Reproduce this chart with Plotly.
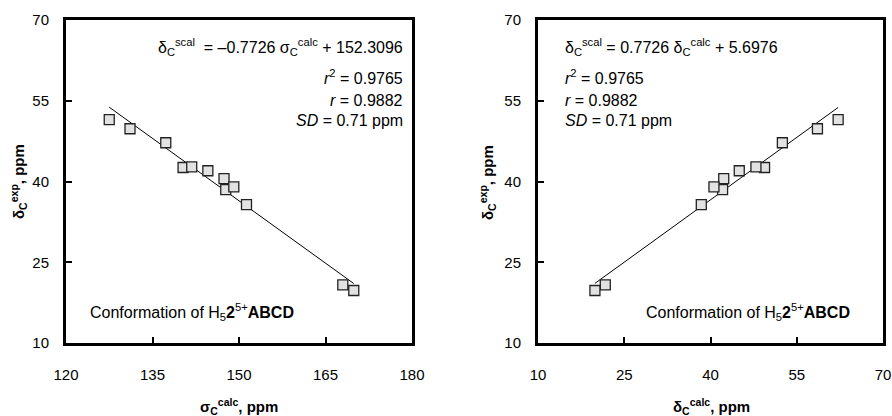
import plotly.graph_objects as go

# Experimental 13C shifts (ppm), shared by both panels
delta_exp = [51.5, 49.8, 47.2, 42.6, 42.7, 42.0, 40.55, 38.5, 39.0, 35.7, 20.8, 19.75]
# Calculated shieldings (ppm), left panel
sigma_calc = [127.5, 131.1, 137.3, 140.3, 141.8, 144.6, 147.4, 147.7, 149.1, 151.3, 168.0, 169.9]
# Calculated shifts (ppm), right panel
delta_calc = [62.2, 58.6, 52.5, 49.4, 47.9, 45.0, 42.3, 42.1, 40.6, 38.4, 21.7, 19.9]

# Linear scaling fits quoted on the panels
fit_sigma = (-0.7726, 152.3096)
fit_delta = (0.7726, 5.6976)

x_ticks_left = [120, 135, 150, 165, 180]
x_ticks_right = [10, 25, 40, 55, 70]
y_ticks = [10, 25, 40, 55, 70]

W, H = 892, 416
TICK_FONT = dict(family="Liberation Sans Narrow, Arial Narrow, Liberation Sans, Arial", size=15, color="black")
TEXT_FONT = dict(family="Liberation Sans, Arial, Helvetica, sans-serif", size=16, color="black")
TITLE_FONT = dict(family="Liberation Sans, Arial, Helvetica, sans-serif", size=15, color="black")

marker = dict(symbol="square", size=10, color="#e2e2e2", line=dict(color="#222222", width=1.3))

fig = go.Figure()


def fit_line(xs, fit):
    lo, hi = min(xs), max(xs)
    a, b = fit
    return [lo, hi], [a * lo + b, a * hi + b]


lx, ly = fit_line(sigma_calc, fit_sigma)
fig.add_trace(go.Scatter(x=lx, y=ly, mode="lines", line=dict(color="black", width=1),
                         xaxis="x", yaxis="y", showlegend=False, hoverinfo="skip"))
fig.add_trace(go.Scatter(x=sigma_calc, y=delta_exp, mode="markers", marker=marker,
                         xaxis="x", yaxis="y", showlegend=False))

rx, ry = fit_line(delta_calc, fit_delta)
fig.add_trace(go.Scatter(x=rx, y=ry, mode="lines", line=dict(color="black", width=1),
                         xaxis="x2", yaxis="y2", showlegend=False, hoverinfo="skip"))
fig.add_trace(go.Scatter(x=delta_calc, y=delta_exp, mode="markers", marker=marker,
                         xaxis="x2", yaxis="y2", showlegend=False))

axis_common = dict(
    showgrid=False, zeroline=False, showline=True, linecolor="black", linewidth=3,
    mirror=True, ticks="inside", ticklen=6, tickwidth=1.5, tickcolor="black",
    tickfont=TICK_FONT, automargin=False,
)

y_dom = [1 - 343 / H, 1 - 20 / H]
fig.update_layout(
    width=W, height=H,
    margin=dict(l=0, r=0, t=0, b=0, pad=0),
    paper_bgcolor="white", plot_bgcolor="white",
    xaxis=dict(domain=[66 / W, 412 / W], range=[120, 180], tickvals=x_ticks_left,
               anchor="y", ticklabelstandoff=16, **axis_common),
    yaxis=dict(domain=y_dom, range=[10, 70], tickvals=y_ticks, anchor="x",
               ticklabelstandoff=11, **axis_common),
    xaxis2=dict(domain=[538 / W, 883 / W], range=[10, 70], tickvals=x_ticks_right,
                anchor="y2", ticklabelstandoff=16, **axis_common),
    yaxis2=dict(domain=y_dom, range=[10, 70], tickvals=y_ticks, anchor="x2",
                ticklabelstandoff=11, **axis_common),
)


def px(x):
    return x / W


def py(y):
    return 1 - y / H


def note(text, x, y, xanchor, font=TEXT_FONT, angle=0):
    fig.add_annotation(text=text, x=px(x), y=py(y), xref="paper", yref="paper",
                       xanchor=xanchor, yanchor="middle", showarrow=False,
                       font=font, textangle=angle)


# Left panel: fit statistics (right-aligned)
note("δ<sub>C</sub><sup>scal</sup>  = –0.7726 σ<sub>C</sub><sup>calc</sup> + 152.3096", 405, 47, "right")
note("<i>r</i><sup>2</sup> = 0.9765", 405, 77, "right")
note("<i>r</i> = 0.9882", 405, 100, "right")
note("<i>SD</i> = 0.71 ppm", 405, 121, "right")
note("Conformation of H<sub>5</sub><b>2</b><sup>5+</sup><b>ABCD</b>", 88, 312, "left")

# Right panel: fit statistics (left-aligned)
note("δ<sub>C</sub><sup>scal</sup> = 0.7726 δ<sub>C</sub><sup>calc</sup> + 5.6976", 563, 47, "left")
note("<i>r</i><sup>2</sup> = 0.9765", 563, 77, "left")
note("<i>r</i> = 0.9882", 563, 100, "left")
note("<i>SD</i> = 0.71 ppm", 563, 121, "left")
note("Conformation of H<sub>5</sub><b>2</b><sup>5+</sup><b>ABCD</b>", 644, 312, "left")

# Axis titles
note("<b>σ<sub>C</sub><sup>calc</sup>, ppm</b>", 239, 406, "center", TITLE_FONT)
note("<b>δ<sub>C</sub><sup>calc</sup>, ppm</b>", 711, 406, "center", TITLE_FONT)
note("<b>δ<sub>C</sub><sup>exp</sup>, ppm</b>", 18, 182, "center", TITLE_FONT, -90)
note("<b>δ<sub>C</sub><sup>exp</sup>, ppm</b>", 487, 182, "center", TITLE_FONT, -90)

fig.write_html("out.html")
